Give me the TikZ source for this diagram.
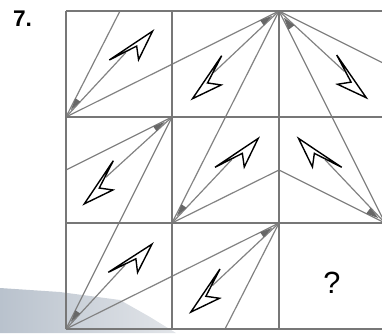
\documentclass[tikz,border=0pt]{standalone}
\usepackage{fontspec}
\setmainfont{Liberation Sans}
\usetikzlibrary{calc,backgrounds}

\definecolor{rulegray}{HTML}{777777}
\definecolor{fangray}{HTML}{828282}
\definecolor{scanleft}{HTML}{B9C2CD}
\definecolor{scanright}{HTML}{E2E5E9}

% small dark wedge near the corner a fan starts from
\newcommand{\wedgemark}[3]{%
  \path ($(#1)!15.75pt!(#2)$) coordinate (wa)
        ($(#1)!15.75pt!(#3)$) coordinate (wb);
  \path ($(wa)!.5!(wb)$) coordinate (wm);
  \fill[wedge] (wa) -- (wb) -- ($(#1)!0.4!(wm)$) -- cycle;}

\tikzset{
  gridline/.style={draw=rulegray, line width=1.1pt},
  fanline/.style={draw=fangray, line width=0.9pt},
  wedge/.style={fill=fangray!80!black},
  bolt/.style={draw=black, line width=1.05pt, fill=white, line join=miter},
  boltR/.pic={
    \path[bolt] (0,0) -- (30.5,3.6) -- (24.5,16) -- (52,0) -- cycle;
    \coordinate (-in) at (18,3);},
  boltL/.pic={
    \path[bolt] (0,0) -- (30.5,-3.6) -- (24.5,-16) -- (52,0) -- cycle;
    \coordinate (-in) at (18,-3);},
}

\begin{document}
\begin{tikzpicture}[x=0.75pt, y=-0.75pt]
  \useasboundingbox (0,0) rectangle (382,333);
  \clip (0,0) rectangle (382,333);

  % grid corners
  \foreach \i/\x in {0/66,1/172,2/279,3/385}
    \foreach \j/\y in {0/11,1/117,2/223,3/329}
      \coordinate (p-\i-\j) at (\x,\y);
  \coordinate (t1) at (120,11);
  \coordinate (r1) at (385,64);
  \coordinate (l1) at (66,170);
  \coordinate (pk) at (279,170);
  \coordinate (b1) at (225,329);

  % bolts
  \pic (b00) [rotate=33.7]   at (109.3,60)    {boltR};
  \pic (b10) [rotate=-124.2] at (221.7,55.7)  {boltL};
  \pic (b20) [rotate=-55.3]  at (336.7,55)    {boltR};
  \pic (b01) [rotate=-123.9] at (113.3,160.7) {boltL};
  \pic (b11) [rotate=33.8]   at (215,167.3)   {boltR};
  \pic (b21) [rotate=146.2]  at (341.7,167.3) {boltL};
  \pic (b02) [rotate=32.8]   at (108.3,272.3) {boltR};
  \pic (b12) [rotate=-124.1] at (220,269)     {boltL};

  \begin{scope}[on background layer]
  % scanner shadow
  \shade[left color=scanleft, right color=scanright]
    (0,288) -- (60,292) -- (120,300) -- (150,317) -- (176,333) -- (0,333) -- cycle;

  % fans
  \draw[fanline] (p-0-1) -- (t1);
  \draw[fanline] (p-0-1) -- (b00-in);
  \draw[fanline] (p-0-1) -- (p-2-0);
  \draw[fanline] (p-2-0) -- (b10-in);
  \draw[fanline] (p-2-0) -- (p-1-2);
  \draw[fanline] (p-2-0) -- (b20-in);
  \draw[fanline] (p-2-0) -- (p-3-2);
  \draw[fanline] (p-2-0) -- (r1);
  \draw[fanline] (p-1-1) -- (l1);
  \draw[fanline] (p-1-1) -- (b01-in);
  \draw[fanline] (p-1-1) -- (p-0-3);
  \draw[fanline] (p-1-2) -- (b11-in);
  \draw[fanline] (p-1-2) -- (pk);
  \draw[fanline] (p-3-2) -- (pk);
  \draw[fanline] (p-3-2) -- (b21-in);
  \draw[fanline] (p-0-3) -- (b02-in);
  \draw[fanline] (p-0-3) -- (p-2-2);
  \draw[fanline] (p-2-2) -- (b12-in);
  \draw[fanline] (p-2-2) -- (b1);

  \wedgemark{p-0-1}{t1}{b00-in}
  \wedgemark{p-2-0}{p-0-1}{b10-in}
  \wedgemark{p-2-0}{b20-in}{p-3-2}
  \wedgemark{p-1-1}{l1}{b01-in}
  \wedgemark{p-1-2}{p-2-0}{b11-in}
  \wedgemark{p-3-2}{pk}{b21-in}
  \wedgemark{p-0-3}{p-1-1}{b02-in}
  \wedgemark{p-2-2}{p-0-3}{b12-in}

  % grid
  \foreach \i in {0,...,3} \draw[gridline] (p-\i-0) -- (p-\i-3);
  \foreach \j in {0,...,3} \draw[gridline] (p-0-\j) -- (p-3-\j);
  \end{scope}

  \node[font=\bfseries\fontsize{17}{17}\selectfont] (num) at (22.5,18.5) {7.};
  \node[font=\fontsize{23}{23}\selectfont] (ask) at (332,283) {?};
\end{tikzpicture}
\end{document}
